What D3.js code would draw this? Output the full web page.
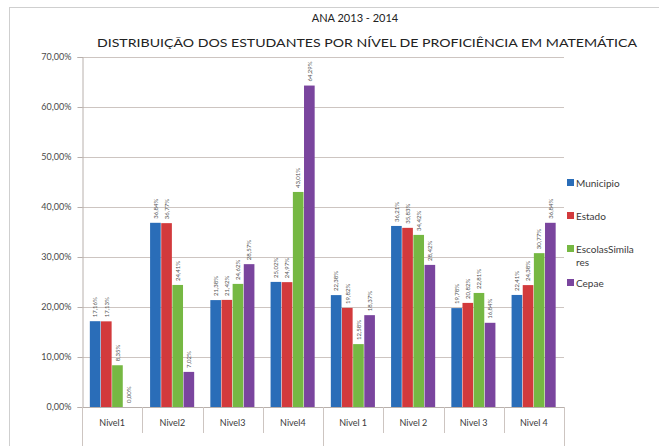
<!DOCTYPE html>
<html>
<head>
<meta charset="utf-8">
<script src="https://cdn.jsdelivr.net/npm/d3@7"></script>
<style>
  body { margin: 0; background: #fff; }
  text { font-family: Lato, "Liberation Sans", sans-serif; }
</style>
</head>
<body>
<svg id="chart" width="659" height="446"></svg>
<script>
// categorias e series (valores em %)
var categorias = ["Nivel1", "Nivel2", "Nivel3", "Nivel4", "Nivel 1", "Nivel 2", "Nivel 3", "Nivel 4"];
var series = ["Municipio", "Estado", "EscolasSimilares", "Cepae"];
var municipio = [17.16, 36.84, 21.38, 25.02, 22.38, 36.21, 19.78, 22.41];
var estado = [17.13, 36.77, 21.42, 24.97, 19.82, 35.83, 20.82, 24.38];
var escolasSimilares = [8.35, 24.41, 24.62, 43.01, 12.58, 34.42, 22.81, 30.77];
var cepae = [0.00, 7.02, 28.57, 64.29, 18.37, 28.42, 16.84, 36.84];
var yTicks = [0, 10, 20, 30, 40, 50, 60, 70];
var cores = ["#2a6db8", "#d23a3c", "#76b843", "#7a459e"];

var valores = [municipio, estado, escolasSimilares, cepae];

var width = 659;
var height = 446;
var plot = { left: 82, right: 564, top: 57, bottom: 407 };

var br = d3.formatLocale({ decimal: ",", thousands: ".", grouping: [3], currency: ["R$", ""] });
var fmt = br.format(".2f");

var svg = d3.select("#chart");

// borda do grafico
svg.append("rect")
	.attr("x", 9.5).attr("y", 7.5)
	.attr("width", 660).attr("height", 450)
	.attr("fill", "none")
	.attr("stroke", "#cfcfcf");

var y = d3.scaleLinear().domain([0, 70]).range([plot.bottom, plot.top]);
var x0 = d3.scaleBand().domain(categorias).range([plot.left, plot.right]).paddingInner(0.26).paddingOuter(0.13);
var x1 = d3.scaleBand().domain(series).range([0, x0.bandwidth()]);
var xCat = d3.scaleBand().domain(categorias).range([plot.left, plot.right]);

// linhas de grade
svg.append("g").selectAll("line")
	.data(yTicks.slice(1))
	.join("line")
	.attr("x1", plot.left).attr("x2", plot.right)
	.attr("y1", function(d) { return Math.round(y(d)) + 0.5; })
	.attr("y2", function(d) { return Math.round(y(d)) + 0.5; })
	.attr("stroke", "#cdc5c1")
	.attr("stroke-width", 1.2);

// eixo y
var yAxis = d3.axisLeft(y)
	.tickValues(yTicks)
	.tickSize(5)
	.tickFormat(function(d) { return fmt(d) + "%"; });

var gy = svg.append("g")
	.attr("transform", "translate(" + plot.left + ".5,0)")
	.call(yAxis);
gy.select(".domain").attr("stroke", "#b8b0ac");
gy.selectAll(".tick line").attr("stroke", "#b8b0ac");
gy.selectAll(".tick text")
	.attr("x", -11)
	.attr("fill", "#4a4a4a")
	.style("font-size", "9px")
	.style("font-family", "Lato, sans-serif");

// barras
var grupos = svg.append("g").selectAll("g")
	.data(categorias)
	.join("g")
	.attr("transform", function(d) { return "translate(" + x0(d) + ",0)"; });

grupos.selectAll("rect")
	.data(function(c, i) {
		return series.map(function(s, j) { return { serie: s, valor: valores[j][i], idx: j }; });
	})
	.join("rect")
	.attr("x", function(d) { return x1(d.serie); })
	.attr("y", function(d) { return y(d.valor); })
	.attr("width", x1.bandwidth() - 0.5)
	.attr("height", function(d) { return y(0) - y(d.valor); })
	.attr("fill", function(d) { return cores[d.idx]; });

// rotulos de dados (verticais)
grupos.selectAll("text.rotulo")
	.data(function(c, i) {
		return series.map(function(s, j) { return { serie: s, valor: valores[j][i], idx: j }; });
	})
	.join("text")
	.attr("class", "rotulo")
	.attr("transform", function(d) {
		var cx = x1(d.serie) + x1.bandwidth() / 2 + 2;
		return "translate(" + cx + "," + (y(d.valor) - 4) + ") rotate(-90)";
	})
	.attr("fill", "#555")
	.style("font-size", "6px")
	.text(function(d) { return fmt(d.valor) + "%"; });

// eixo x com separadores
var gx = svg.append("g");
gx.append("line")
	.attr("x1", plot.left).attr("x2", plot.right)
	.attr("y1", plot.bottom + 0.5).attr("y2", plot.bottom + 0.5)
	.attr("stroke", "#b8b0ac");

var separadores = categorias.map(function(c) { return xCat(c); }).concat([plot.right]);
gx.selectAll("line.sep")
	.data(separadores)
	.join("line")
	.attr("class", "sep")
	.attr("x1", function(d) { return Math.round(d) + 0.5; })
	.attr("x2", function(d) { return Math.round(d) + 0.5; })
	.attr("y1", plot.bottom)
	.attr("y2", function(d, i) { return (i === 0 || i === 4 || i === 8) ? 446 : 433; })
	.attr("stroke", "#cdc5c1");

gx.selectAll("text")
	.data(categorias)
	.join("text")
	.attr("x", function(d) { return xCat(d) + xCat.bandwidth() / 2; })
	.attr("y", 426)
	.attr("text-anchor", "middle")
	.attr("fill", "#3a3a3a")
	.style("font-size", "9px")
	.text(function(d) { return d; });

// titulo
svg.append("text")
	.attr("x", 355).attr("y", 22)
	.attr("text-anchor", "middle")
	.attr("fill", "#222")
	.style("font-size", "11px")
	.text("ANA 2013 - 2014");
svg.append("text")
	.attr("x", 367).attr("y", 47)
	.attr("text-anchor", "middle")
	.attr("fill", "#222")
	.attr("textLength", 540)
	.attr("lengthAdjust", "spacingAndGlyphs")
	.style("font-size", "10.5px")
	.text("DISTRIBUIÇÃO DOS ESTUDANTES POR NÍVEL DE PROFICIÊNCIA EM MATEMÁTICA");

// legenda
var legendaY = [183, 216, 249, 283];
var leg = svg.append("g").selectAll("g")
	.data(series)
	.join("g")
	.attr("transform", function(d, i) { return "translate(567," + legendaY[i] + ")"; });

leg.append("rect")
	.attr("x", 0).attr("y", -4)
	.attr("width", 7).attr("height", 7)
	.attr("fill", function(d, i) { return cores[i]; });

leg.append("text")
	.attr("x", 9).attr("y", 3.5)
	.attr("fill", "#3a3a3a")
	.style("font-size", "10px")
	.each(function(d) {
		var t = d3.select(this);
		if (d === "EscolasSimilares") {
			t.append("tspan").attr("x", 9).text("EscolasSimila");
			t.append("tspan").attr("x", 9).attr("dy", 13).text("res");
		} else {
			t.text(d);
		}
	});
</script>
</body>
</html>
